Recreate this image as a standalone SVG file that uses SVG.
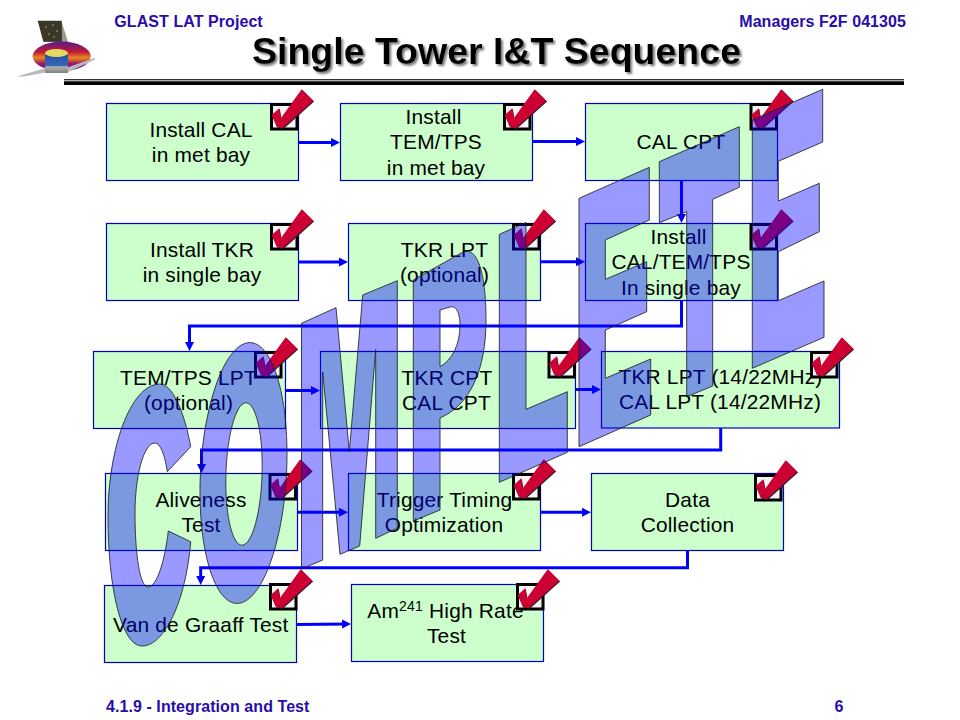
<svg xmlns="http://www.w3.org/2000/svg" xmlns:xlink="http://www.w3.org/1999/xlink" width="960" height="720" viewBox="0 0 960 720">
<style>
text{font-family:"Liberation Sans",Arial,sans-serif}
.box{fill:#ccffcc;stroke:#0000c8;stroke-width:1.2}
.lbl{font-size:20.9px;letter-spacing:.2px;fill:#000;text-anchor:middle}
.hdr{font-size:16px;letter-spacing:.07px;font-weight:bold;fill:#2a0ca8}
.con{fill:none;stroke:#0000ff;stroke-width:3;marker-end:url(#arr)}
.ltr{fill:#0000ff;fill-opacity:.4;fill-rule:evenodd;stroke:#222;stroke-opacity:.85;stroke-width:1}
</style>
<defs>
<marker id="arr" markerUnits="userSpaceOnUse" markerWidth="10" markerHeight="10" refX="5" refY="5" orient="auto"><path d="M0 .5L9 5L0 9.500Z" fill="#0000ff"/></marker>
<g id="chk">
<rect x="1.500" y="1.500" width="25.500" height="24.500" fill="#f4f4f4" stroke="#000" stroke-width="3"/>
<path d="M2.200 12.800L9.800 6.100L11.500 15.800L32.500 -12.900L44.100 -1.500L13.500 26.100L7.500 24.500Z" fill="#222"/>
<path d="M1.700 12L9.300 5.300L11 15L31.700 -13.700L43.300 -2.300L12.700 25.300L6.700 23.700Z" fill="#cc0033"/>
</g>
<linearGradient id="disc" x1="0" y1="0" x2="0" y2="1"><stop offset="0" stop-color="#5a1a8a"/><stop offset=".35" stop-color="#c01838"/><stop offset=".55" stop-color="#e88a20"/><stop offset=".75" stop-color="#a01860"/><stop offset="1" stop-color="#4a2090"/></linearGradient>
<linearGradient id="body" x1="0" y1="0" x2="0" y2="1"><stop offset="0" stop-color="#2850a8"/><stop offset=".6" stop-color="#3868b8"/><stop offset=".65" stop-color="#b0b0b0"/><stop offset="1" stop-color="#808080"/></linearGradient>
<filter id="shadow" x="-5%" y="-20%" width="110%" height="150%"><feDropShadow dx="2" dy="2" stdDeviation=".8" flood-color="#777"/></filter>
</defs>
<rect width="960" height="720" fill="#fff"/>
<g id="logo">
<path d="M61.700 22L68 42H44Z" fill="#9a9a8a"/>
<path d="M37.700 20.700H61.700L62 41.700H43.300Z" fill="#3a3628"/>
<g fill="#d8d0a0"><circle cx="46" cy="27" r=".7"/><circle cx="53" cy="25" r=".7"/><circle cx="57" cy="31" r=".7"/><circle cx="49" cy="34" r=".7"/><circle cx="54" cy="37" r=".7"/></g>
<ellipse cx="61.700" cy="56.300" rx="29" ry="14.700" fill="url(#disc)"/>
<path d="M16.700 76.500L46 68L48 72L24 76.500Z" fill="#b8b8c0"/>
<path d="M66 68L95.700 57.500L94 60L68 72Z" fill="#b8b8c0"/>
<rect x="45" y="55" width="23" height="18" fill="url(#body)"/>
<ellipse cx="56.500" cy="53" rx="11.500" ry="4" fill="#e8d860"/>
</g>
<g id="header">
<text class="hdr" x="114.300" y="27">GLAST LAT Project</text>
<text class="hdr" x="906" y="27" text-anchor="end">Managers F2F 041305</text>
<text x="496.500" y="64.300" font-size="37.500" font-weight="bold" text-anchor="middle" filter="url(#shadow)">Single Tower I&amp;T Sequence</text>
<rect x="64" y="79.200" width="840" height="1.100" fill="#000"/>
<rect x="64" y="80.300" width="840" height="1" fill="#aaa"/>
<rect x="64" y="81.300" width="840" height="3.700" fill="#000"/>
</g>
<g id="n1"><rect class="box" x="106.500" y="103.500" width="192" height="77"/><text class="lbl"><tspan x="201" y="137">Install CAL</tspan><tspan x="201" y="162">in met bay</tspan></text><use xlink:href="#chk" href="#chk" x="270" y="103"/></g>
<g id="n2"><rect class="box" x="340.500" y="103.500" width="192" height="77"/><text class="lbl"><tspan x="433.500" y="124">Install</tspan><tspan x="436" y="149">TEM/TPS</tspan><tspan x="436" y="174.500">in met bay</tspan></text><use xlink:href="#chk" href="#chk" x="503" y="103"/></g>
<g id="n3"><rect class="box" x="585.500" y="103.500" width="192" height="77"/><text class="lbl" x="681" y="148.500">CAL CPT</text><use xlink:href="#chk" href="#chk" x="749.500" y="103"/></g>
<g id="n4"><rect class="box" x="106.500" y="223.500" width="192" height="77"/><text class="lbl"><tspan x="202" y="256.500">Install TKR</tspan><tspan x="202" y="281.500">in single bay</tspan></text><use xlink:href="#chk" href="#chk" x="270" y="223"/></g>
<g id="n5"><rect class="box" x="348.500" y="223.500" width="192" height="77"/><text class="lbl"><tspan x="444.500" y="256.500">TKR LPT</tspan><tspan x="444.500" y="281.500">(optional)</tspan></text><use xlink:href="#chk" href="#chk" x="512" y="223"/></g>
<g id="n6"><rect class="box" x="585.500" y="223.500" width="192" height="77"/><text class="lbl"><tspan x="678.500" y="243.500">Install</tspan><tspan x="681" y="269">CAL/TEM/TPS</tspan><tspan x="681" y="295">In single bay</tspan></text><use xlink:href="#chk" href="#chk" x="749.500" y="223"/></g>
<g id="n7"><rect class="box" x="93.500" y="351.500" width="192" height="77"/><text class="lbl"><tspan x="188.500" y="385">TEM/TPS LPT</tspan><tspan x="188.500" y="410">(optional)</tspan></text><use xlink:href="#chk" href="#chk" x="254" y="351"/></g>
<g id="n8"><rect class="box" x="320.500" y="351.500" width="255" height="77"/><text class="lbl"><tspan x="447" y="384.500">TKR CPT</tspan><tspan x="446.500" y="409.500">CAL CPT</tspan></text><use xlink:href="#chk" href="#chk" x="547.500" y="351"/></g>
<g id="n9"><rect class="box" x="601.500" y="351.500" width="238" height="76.500"/><text class="lbl"><tspan x="720.500" y="383.500">TKR LPT (14/22MHz)</tspan><tspan x="720" y="408.500">CAL LPT (14/22MHz)</tspan></text><use xlink:href="#chk" href="#chk" x="810" y="351"/></g>
<g id="n10"><rect class="box" x="105.500" y="473.500" width="192" height="77"/><text class="lbl"><tspan x="201" y="506.500">Aliveness</tspan><tspan x="201" y="531.500">Test</tspan></text><use xlink:href="#chk" href="#chk" x="268.500" y="473"/></g>
<g id="n11"><rect class="box" x="348.500" y="473.500" width="192" height="77"/><text class="lbl"><tspan x="444.500" y="506.500">Trigger Timing</tspan><tspan x="444" y="531.500">Optimization</tspan></text><use xlink:href="#chk" href="#chk" x="512" y="473"/></g>
<g id="n12"><rect class="box" x="591.500" y="473.500" width="192" height="77"/><text class="lbl"><tspan x="687.500" y="506.500">Data</tspan><tspan x="687.500" y="532">Collection</tspan></text><use xlink:href="#chk" href="#chk" x="754" y="474"/></g>
<g id="n13"><rect class="box" x="104.500" y="585.500" width="192" height="77"/><text class="lbl" x="200.800" y="631.500">Van de Graaff Test</text><use xlink:href="#chk" href="#chk" x="269" y="583"/></g>
<g id="n14"><rect class="box" x="351.500" y="584.500" width="192" height="77"/><text class="lbl"><tspan x="445.500" y="617.500">Am<tspan font-size="14px" dy="-7">241</tspan><tspan dy="7"> High Rate</tspan></tspan><tspan x="446.500" y="642.500">Test</tspan></text><use xlink:href="#chk" href="#chk" x="516" y="583"/></g>
<g id="connectors">
<path class="con" d="M298.500 142.500H336"/>
<path class="con" d="M532.500 141.500H581"/>
<path class="con" d="M681.500 180.500V219"/>
<path class="con" d="M298.500 262H344"/>
<path class="con" d="M540.500 261.700H581"/>
<path class="con" d="M681.500 300.500V326H189.500V347"/>
<path class="con" d="M285.500 390.500H316"/>
<path class="con" d="M575.500 389.500H597"/>
<path class="con" d="M720.700 428V450H201.500V469"/>
<path class="con" d="M297.500 512.300H344"/>
<path class="con" d="M540.500 512.300H587"/>
<path class="con" d="M687.500 550.500V567.700H200.700V581"/>
<path class="con" d="M296.500 624.500L347 624"/>
</g>
<g id="complete">
<path class="ltr" d="M190.700 446.700C184 410 172 384 160 384C130 384 108 450 108 516C108 590 122 646 142 646C165 646 186 600 190.700 541.700L168.300 531C165 560 157 587 148 587C140 587 135 555 135 513C135 478 143 443 155 443C160 443 165 455 167.300 471.700Z"/>
<path class="ltr" d="M287 454C287 382.800 267.500 333.500 243.500 344C219.500 354.500 200 420.800 200 492C200 563.200 219.500 612.500 243.500 602C267.500 591.500 287 525.200 287 454ZM262.200 466C262.200 427 254 398.900 244 403.300C234 407.700 225.800 443 225.800 482C225.800 521 234 549.100 244 544.700C254 540.300 262.200 505 262.200 466Z"/>
<path class="ltr" d="M301.500 323.300L336 307.700L349.300 451.700L362.700 295L397.300 280.700V528L375.700 538.300V349.500L359.700 546L340 554.300L322.700 372V560L301.500 569Z"/>
<path class="ltr" d="M413.300 280L463 252C478 246 486 275 486 320C486 370 470 405 440 418V510L413.300 521ZM440 310L450 307C457 305 460 315 460 325C460 345 452 360 440 366.700Z"/>
<path class="ltr" d="M499.300 234.300L526 222.500V409.300L567.300 391.700V452.300L499.300 482.300Z"/>
<path class="ltr" d="M579 198.300L649.300 167.300V220L605.300 240V279.300L646.700 261.700V311.700L605.300 330V378.300L650.700 359V415L579 446.700Z"/>
<path class="ltr" d="M659.300 161.700L739.300 126.700V187.300L712.700 199.300V386L686.700 396.700V211.700L659.300 222.700Z"/>
<path class="ltr" d="M752.300 120L822.700 89.300V142L778.300 161.300V201L819.300 183.300V231.700L778.300 251.700V300.700L824 281V337.300L752.300 368.300Z"/>
</g>
<g id="footer">
<text class="hdr" x="106" y="712">4.1.9 - Integration and Test</text>
<text class="hdr" x="839" y="712" text-anchor="middle">6</text>
</g>
</svg>
